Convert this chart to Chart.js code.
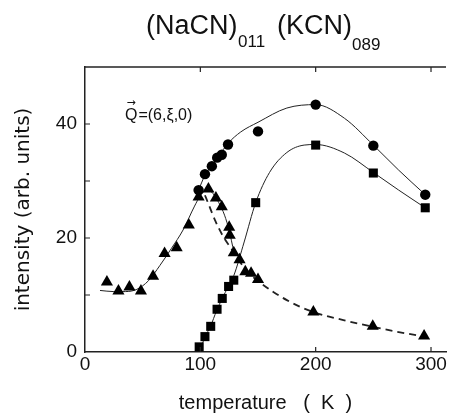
<!DOCTYPE html>
<html><head><meta charset="utf-8">
<script src="https://cdn.jsdelivr.net/npm/chart.js@4.4.1/dist/chart.umd.min.js"></script>
<style>html,body{margin:0;padding:0;background:#fff;}</style>
</head><body>
<canvas id="c" width="453" height="413"></canvas>
<script>
// ---- data ----
const circleT = [98.5, 104, 110, 114.6, 118.6, 124, 150, 200, 250, 295];
const circleI = [28.4, 31.2, 32.6, 34.1, 34.6, 36.4, 38.7, 43.4, 36.2, 27.6];

const squareT = [99, 104, 109, 114.5, 119, 124.5, 129, 148, 200, 250, 295];
const squareI = [0.9, 2.7, 4.5, 7.5, 9.4, 11.5, 12.6, 26.2, 36.3, 31.4, 25.3];

const triT = [19, 29, 38.5, 48.5, 59, 69, 79.5, 90, 98.5, 107, 113.5, 118.6, 125, 125.5, 129, 134, 139, 144, 150, 198, 249.5, 294];
const triI = [12.3, 10.7, 11.4, 10.7, 13.3, 17.3, 18.3, 22.3, 27.2, 28.6, 27.0, 25.5, 21.9, 20.5, 17.4, 16.2, 14.1, 13.8, 12.7, 7.0, 4.5, 2.8];

// fitted guide curves
const circleFitT = [98, 104, 110, 116, 124, 135, 150, 175, 200, 225, 250, 272, 295];
const circleFitI = [28.2, 31.0, 32.8, 34.4, 36.6, 38.6, 40.3, 42.8, 43.4, 41.0, 36.3, 31.9, 27.6];

const squareFitT = [99, 104, 109, 114, 119, 124, 129, 138, 148, 160, 175, 190, 200, 225, 250, 272, 295];
const squareFitI = [0, 2.6, 4.6, 7.2, 9.4, 11.4, 13.4, 19.3, 26.2, 31.5, 35.0, 36.3, 36.4, 34.9, 31.5, 28.4, 25.3];

const triSolidT = [13, 25, 35, 45, 55, 65, 75, 85, 95, 100, 106, 111, 116, 121, 125, 129];
const triSolidI = [10.8, 10.6, 10.6, 11.0, 12.5, 15.2, 18.2, 21.4, 25.6, 27.4, 28.5, 27.8, 26.2, 24.0, 21.3, 17.6];

const triDashT = [104, 107, 113, 120, 128, 135, 140, 151, 175, 198, 224, 250, 272, 295];
const triDashI = [27.5, 26.0, 23.0, 20.2, 17.8, 15.6, 14.3, 12.3, 9.1, 7.0, 5.6, 4.4, 3.5, 2.7];

const xTickLabels = [0, 100, 200, 300];
const yTickLabels = [0, 20, 40];
const xMinorTicks = [100, 200, 300];
const yMinorTicks = [10, 20, 30, 40];

const pts = (T, I) => T.map((t, i) => ({x: t, y: I[i]}));
const INK = '#111';

const decor = {
  id: 'decor',
  afterDraw(chart) {
    const {ctx, chartArea: a, scales: {x, y}} = chart;
    ctx.save();
    ctx.strokeStyle = '#222';
    ctx.lineWidth = 1.5;
    // top frame line
    ctx.beginPath();
    ctx.moveTo(a.left, a.top);
    ctx.lineTo(a.right, a.top);
    ctx.stroke();
    // inward ticks
    ctx.lineWidth = 1.2;
    ctx.beginPath();
    xMinorTicks.forEach(v => {
      const px = x.getPixelForValue(v);
      ctx.moveTo(px, a.bottom); ctx.lineTo(px, a.bottom - 5);
      ctx.moveTo(px, a.top); ctx.lineTo(px, a.top + 5);
    });
    yMinorTicks.forEach(v => {
      const py = y.getPixelForValue(v);
      ctx.moveTo(a.left, py); ctx.lineTo(a.left + 5, py);
    });
    ctx.stroke();

    // title with subscripts
    ctx.fillStyle = INK;
    ctx.textBaseline = 'alphabetic';
    ctx.textAlign = 'left';
    ctx.font = '27px "Liberation Sans"';
    ctx.fillText('(NaCN)', 146, 34);
    ctx.font = '17px "Liberation Sans"';
    ctx.fillText('011', 238, 47);
    ctx.font = '27px "Liberation Sans"';
    ctx.fillText('(KCN)', 277, 34);
    ctx.font = '17px "Liberation Sans"';
    ctx.fillText('089', 352, 50);

    // annotation Q = (6, xi, 0)
    ctx.font = '16px "Liberation Sans"';
    ctx.fillText('Q', 125, 120);
    const qw = ctx.measureText('Q').width;
    ctx.fillText('=(6,ξ,0)', 125 + qw + 1, 120);
    ctx.font = '11px "DejaVu Sans"';
    ctx.textAlign = 'center';
    ctx.fillText('→', 125 + qw / 2, 106);
    ctx.restore();
  }
};

const lineDs = (T, I, extra) => Object.assign({
  data: pts(T, I), showLine: true, pointRadius: 0, borderColor: '#222',
  borderWidth: 1, cubicInterpolationMode: 'monotone', fill: false, order: 2
}, extra || {});

const markDs = (T, I, style, r) => ({
  data: pts(T, I), showLine: false, pointStyle: style, pointRadius: r,
  pointBackgroundColor: '#000', pointBorderColor: '#000', pointBorderWidth: 0, order: 1
});

new Chart(document.getElementById('c'), {
  type: 'scatter',
  data: {
    datasets: [
      lineDs(circleFitT, circleFitI),
      lineDs(squareFitT, squareFitI),
      lineDs(triSolidT, triSolidI),
      lineDs(triDashT, triDashI, {borderDash: [7, 5], borderWidth: 1.8}),
      markDs(circleT, circleI, 'circle', 5.2),
      markDs(squareT, squareI, 'rect', 6.4),
      markDs(triT, triI, 'triangle', 7)
    ]
  },
  options: {
    responsive: false,
    devicePixelRatio: 1,
    animation: false,
    layout: {padding: {top: 67, right: 1, left: 0, bottom: 0}},
    plugins: {legend: {display: false}, tooltip: {enabled: false}, title: {display: false}},
    scales: {
      x: {
        type: 'linear', min: 0, max: 313,
        ticks: {
          stepSize: 100, includeBounds: false, padding: 1, color: INK,
          font: {family: 'Liberation Sans', size: 19},
          callback: v => xTickLabels.includes(v) ? String(v) : ''
        },
        grid: {drawOnChartArea: false, drawTicks: false},
        border: {display: true, color: '#222', width: 1.5},
        title: {
          display: true, text: 'temperature   (  K  )', color: INK, padding: 0,
          font: {family: 'Liberation Sans', size: 20, lineHeight: 1}
        },
        afterFit: s => { s.height = 61; }
      },
      y: {
        type: 'linear', min: 0, max: 50,
        ticks: {
          stepSize: 10, padding: 8, color: INK,
          font: {family: 'Liberation Sans', size: 19},
          callback: v => yTickLabels.includes(v) ? String(v) : ''
        },
        grid: {drawOnChartArea: false, drawTicks: false},
        border: {display: true, color: '#222', width: 1.5},
        title: {
          display: true, text: 'intensity (arb. units)', color: INK, padding: {top: 12, bottom: 0},
          font: {family: 'DejaVu Sans', size: 20, lineHeight: 1.2}
        },
        afterFit: s => { s.width = 85; }
      }
    }
  },
  plugins: [decor]
});
</script>
</body></html>
